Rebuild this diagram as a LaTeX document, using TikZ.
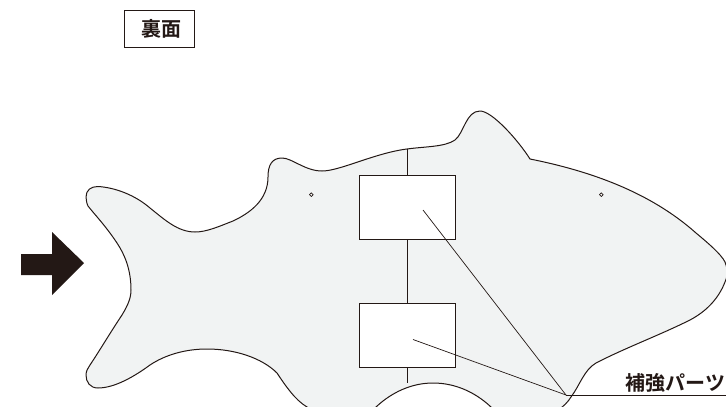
\documentclass[tikz,border=0pt]{standalone}
\usepackage{fontspec}
\newfontfamily\cjk{Noto Sans CJK JP}[BoldFont={Noto Sans CJK JP Bold}]
\definecolor{ink}{HTML}{231815}
\definecolor{fishfill}{HTML}{F1F3F3}
\tikzset{
  outline/.style={draw=ink,line width=1pt,fill=fishfill,line join=round},
  patch/.style={draw=ink,line width=0.9pt,fill=white,minimum width=96pt,minimum height=64pt,inner sep=0pt,outer sep=0pt},
  seam/.style={draw=ink,line width=0.8pt},
  leader/.style={draw=ink,line width=0.7pt},
  hole/.style={circle,draw=ink,line width=0.7pt,fill=white,minimum size=3.6pt,inner sep=0pt},
  label/.style={text=ink,inner sep=0pt}
}
\begin{document}
\begin{tikzpicture}[x=1pt,y=-1pt]
\useasboundingbox (0,0) rectangle (726,407);
\clip (0,0) rectangle (726,407);
% fish body
\path[outline] (86,197)
  .. controls (86,190) and (91,186.5) .. (98,186.5)
  .. controls (115,187.5) and (135,195) .. (150,208)
  .. controls (165,220) and (178,232) .. (195,232)
  .. controls (207,232) and (220,226) .. (233,221)
  .. controls (250,213) and (268,200) .. (268,177)
  .. controls (268,165) and (272,158) .. (282,158)
  .. controls (292,158) and (305,171) .. (322,171)
  .. controls (340,171) and (375,153) .. (407,149)
  .. controls (425,146.5) and (445,147) .. (455,140)
  .. controls (464,133) and (466,111) .. (480,111)
  .. controls (492,111) and (518,140) .. (530,159)
  .. controls (590,171) and (650,192) .. (696,233)
  .. controls (708,243) and (721,254) .. (725,262)
  .. controls (728,270) and (728,275) .. (725,282)
  .. controls (718,300) and (705,312) .. (690,320)
  .. controls (660,335) and (625,348) .. (596,363)
  .. controls (584,370) and (580,385) .. (571,397)
  .. controls (568,402) and (563,407) .. (558,410)
  -- (495,410) -- (491,407)
  .. controls (475,392) and (455,383) .. (433,383)
  .. controls (412,383) and (392,392) .. (376,407)
  -- (372,410) -- (312,410) -- (307,407)
  .. controls (295,400) and (285,385) .. (277,373)
  .. controls (262,358) and (235,349) .. (207,349)
  .. controls (185,349) and (165,355) .. (150,365)
  .. controls (135,376) and (115,388) .. (98,388)
  .. controls (90,388) and (86,382) .. (86,375)
  .. controls (86,371) and (88,368) .. (90,365)
  .. controls (100,350) and (110,333) .. (122,315)
  .. controls (128,305) and (131,298) .. (131,290)
  .. controls (131,270) and (125,255) .. (117,243)
  .. controls (105,225) and (95,215) .. (88,206)
  .. controls (87,204) and (86,200) .. (86,197)
  -- cycle;
% seam
\coordinate (seamtop) at (407,149);
\coordinate (seambot) at (407,383);
\node[patch] (upper) at (407,207) {};
\node[patch] (lower) at (407,335) {};
\draw[seam] (seamtop) -- (upper.north);
\draw[seam] (upper.south) -- (lower.north);
\draw[seam] (lower.south) -- (seambot);
% holes
\node[hole] (holeL) at (311.3,194.7) {};
\node[hole] (holeR) at (601.3,194.7) {};
% leaders
\coordinate (pU) at (423,210);
\coordinate (pL) at (413,339.5);
\coordinate (hub) at (566,395);
\coordinate (lineEnd) at (726,395);
\draw[leader] (pU) -- (hub);
\draw[leader] (pL) -- (hub);
\draw[leader] (hub) -- (lineEnd);
\node[label,font=\cjk\bfseries\fontsize{20}{20}\selectfont,anchor=east] (parts) at (725.5,382.5) {補強パーツ};
% arrow
\fill[ink] (21,254) -- (52,254) -- (52,232) -- (84,263) -- (52,295) -- (52,275) -- (21,275) -- cycle;
% title
\node[draw=ink,line width=0.9pt,minimum width=70pt,minimum height=37pt,inner sep=0pt,label] (title) at (159,28.5) {};
\node[label,font=\cjk\bfseries\fontsize{20}{20}\selectfont] (titletext) at (161,28.5) {裏面};
\end{tikzpicture}
\end{document}
